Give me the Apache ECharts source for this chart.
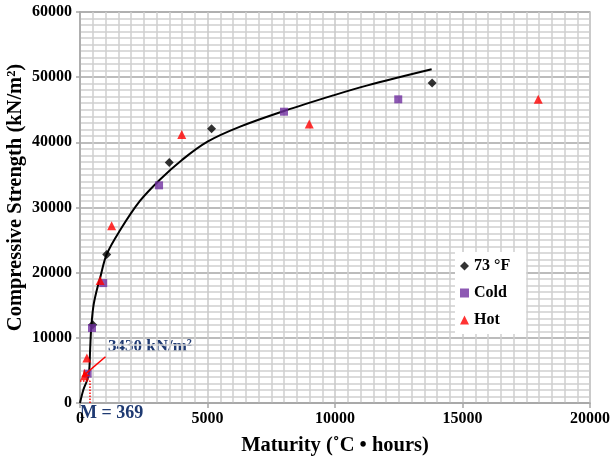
<!DOCTYPE html>
<html>
<head>
<meta charset="utf-8">
<script src="https://cdn.jsdelivr.net/npm/echarts@6/dist/echarts.min.js"></script>
<style>
  html, body { margin: 0; padding: 0; background: #fff; }
  #chart { width: 610px; height: 462px; }
</style>
</head>
<body>
<div id="chart"></div>
<script>
// points: [maturity, strength]
const roomTemp = [[497, 12000], [1046, 22800], [3500, 36900], [5160, 42100], [13810, 49100]]
const cold = [[300, 4500], [470, 11500], [910, 18400], [3100, 33400], [8000, 44700], [12480, 46600]]
const hot = [[180, 4200], [270, 6900], [790, 18800], [1240, 27200], [3990, 41200], [8990, 42800], [17970, 46600]]
// fitted curve as drawn
const curve = [
  [0, 0], [130, 2000], [260, 3300], [353, 4600], [400, 8500], [440, 11500], [523, 14800],
  [650, 17200], [790, 19200], [1046, 22800], [1570, 26500], [2350, 31000], [3140, 34300],
  [4000, 37300], [5000, 40100], [6280, 42400], [8000, 44800], [9930, 47200],
  [11240, 48700], [13790, 51200]
]
const mValue = 369
const sValue = 3430
const legendNames = ['73 °F', 'Cold', 'Hot']

const font = '"Liberation Serif", "Times New Roman", serif'
const navy = '#1f3a72'

const chart = echarts.init(document.getElementById('chart'))
chart.setOption({
  animation: false,
  grid: {
    left: 80,
    right: 20,
    top: 12,
    bottom: 59,
    outerBoundsMode: 'none',
    show: true,
    borderColor: '#bfbfbf',
    borderWidth: 1.5
  },
  legend: {
    orient: 'vertical',
    left: 455,
    top: 252,
    backgroundColor: '#fff',
    padding: [6, 16, 6, 5],
    itemGap: 11,
    itemWidth: 9,
    itemHeight: 9,
    textStyle: { fontFamily: font, fontWeight: 'bold', fontSize: 16, color: '#000' },
    data: [
      { name: legendNames[0], icon: 'diamond' },
      { name: legendNames[1], icon: 'rect' },
      { name: legendNames[2], icon: 'triangle' }
    ]
  },
  xAxis: {
    type: 'value',
    min: 0,
    max: 20000,
    interval: 5000,
    name: 'Maturity (˚C • hours)',
    nameLocation: 'middle',
    nameGap: 32,
    nameTextStyle: { fontFamily: font, fontWeight: 'bold', fontSize: 20.5, color: '#000' },
    axisLine: { lineStyle: { color: '#a6a6a6', width: 1.5 } },
    axisTick: { show: true, length: 5, lineStyle: { color: '#a6a6a6', width: 1.5 } },
    axisLabel: {
      fontFamily: font, fontWeight: 'bold', fontSize: 16, color: '#000', margin: 8,
      formatter: v => String(v)
    },
    splitLine: { lineStyle: { color: '#c8c8c8', width: 1.5 } },
    minorTick: { show: false, splitNumber: 10 },
    minorSplitLine: { show: true, lineStyle: { color: '#cfcfcf', width: 1.5 } }
  },
  yAxis: {
    type: 'value',
    min: 0,
    max: 60000,
    interval: 10000,
    name: 'Compressive Strength (kN/m²)',
    nameLocation: 'middle',
    nameGap: 54,
    nameMoveOverlap: false,
    nameTextStyle: {
      fontFamily: font, fontWeight: 'bold', fontSize: 20.5, color: '#000',
      padding: [0, 0, 0, 20]
    },
    axisLine: { show: true, lineStyle: { color: '#a6a6a6', width: 1.5 } },
    axisTick: { show: true, length: 4, lineStyle: { color: '#a6a6a6', width: 1.5 } },
    axisLabel: {
      fontFamily: font, fontWeight: 'bold', fontSize: 16, color: '#000', margin: 8,
      formatter: v => String(v)
    },
    splitLine: { lineStyle: { color: '#a6a6a6', width: 1.5 } },
    minorTick: { show: false, splitNumber: 10 },
    minorSplitLine: { show: true, lineStyle: { color: '#cfcfcf', width: 1.5 } }
  },
  series: [
    {
      name: 'fit',
      type: 'line',
      data: curve,
      smooth: 0.35,
      symbol: 'none',
      lineStyle: { color: '#000', width: 2 },
      z: 3,
      markLine: {
        silent: true,
        symbol: 'none',
        label: { show: false },
        lineStyle: { color: '#ff0000', type: 'dotted', width: 1.5 },
        data: [
          [{ coord: [mValue, 0] }, { coord: [mValue, sValue] }],
          [{ coord: [0, sValue] }, { coord: [mValue, sValue] }],
          [
            { coord: [1000, 7100], symbol: 'none', lineStyle: { type: 'solid', width: 1.5 } },
            { coord: [80, 4000], symbol: 'arrow', symbolSize: 7 }
          ]
        ]
      }
    },
    {
      name: legendNames[0],
      type: 'scatter',
      data: roomTemp,
      symbol: 'diamond',
      symbolSize: 9,
      itemStyle: { color: '#000' },
      z: 4
    },
    {
      name: legendNames[1],
      type: 'scatter',
      data: cold,
      symbol: 'rect',
      symbolSize: 8,
      itemStyle: { color: '#7030a0' },
      z: 4
    },
    {
      name: legendNames[2],
      type: 'scatter',
      data: hot,
      symbol: 'triangle',
      symbolSize: 9,
      itemStyle: { color: '#ff0000' },
      z: 4
    }
  ],
  graphic: [
    {
      type: 'text',
      left: 108,
      top: 338,
      style: { text: sValue + ' kN/m²', fontFamily: font, fontWeight: 'bold', fontSize: 17, fill: navy }
    },
    {
      type: 'text',
      left: 80,
      top: 404,
      style: { text: 'M = ' + mValue, fontFamily: font, fontWeight: 'bold', fontSize: 18, fill: navy }
    }
  ]
})
window.addEventListener('resize', () => {
  chart.resize()
})
</script>
</body>
</html>
